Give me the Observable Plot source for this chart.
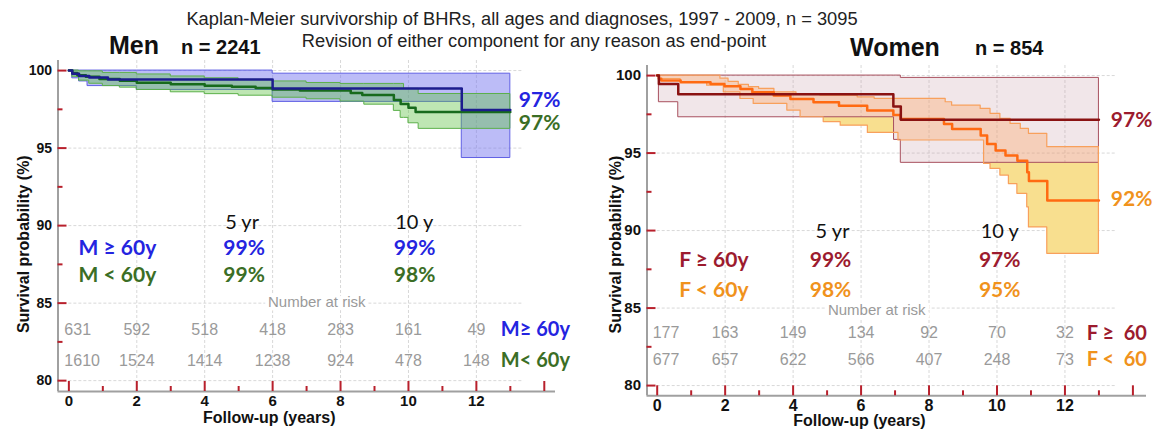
<!DOCTYPE html>
<html><head><meta charset="utf-8">
<script src="https://cdn.jsdelivr.net/npm/d3@7"></script>
<script src="https://cdn.jsdelivr.net/npm/@observablehq/plot@0.6"></script>
<style>
body{margin:0;background:#fff;}
#wrap{position:relative;width:1153px;height:440px;overflow:hidden;font-family:"Liberation Sans",Arial,sans-serif;}
#left,#right{position:absolute;top:0;}
#left{left:0}#right{left:578px}
#titles{position:absolute;left:0;top:0;pointer-events:none;font-family:"Liberation Sans",Arial,sans-serif;}
</style></head><body>
<div id="wrap">
<div id="left"></div><div id="right"></div>
<svg id="titles" width="1153" height="440">
 <text x="522" y="25" text-anchor="middle" font-size="18.3" fill="#222">Kaplan-Meier survivorship of BHRs, all ages and diagnoses, 1997 - 2009, n = 3095</text>
 <text x="534" y="47" text-anchor="middle" font-size="18.3" fill="#222">Revision of either component for any reason as end-point</text>
 <text x="109" y="54" font-size="25" font-weight="bold" fill="#111">Men</text>
 <text x="181" y="54" font-size="20" font-weight="bold" fill="#111">n = 2241</text>
 <text x="850" y="56" font-size="25" font-weight="bold" fill="#111">Women</text>
 <text x="975" y="55" font-size="20" font-weight="bold" fill="#111">n = 854</text>
</svg>
</div>
<script>
// ---------- data ----------
const xLabels = [0, 2, 4, 6, 8, 10, 12];
const xMajor = [0, 2, 4, 6, 8, 10, 12, 14];
const xMinor = [1, 3, 5, 7, 9, 11, 13];
const xGrid = [2, 4, 6, 8, 10, 12];
const yMajor = [80, 85, 90, 95, 100];
const yMinor = [82.5, 87.5, 92.5, 97.5];

const riskYears = [0, 2, 4, 6, 8, 10, 12];
const riskMenOld = [631, 592, 518, 418, 283, 161, 49];
const riskMenYoung = [1610, 1524, 1414, 1238, 924, 478, 148];
const riskWomenOld = [177, 163, 149, 134, 92, 70, 32];
const riskWomenYoung = [677, 657, 622, 566, 407, 248, 73];

const milestoneLabels = ["5 yr", "10 y"];
const menOldPct = ["99%", "99%"];
const menYoungPct = ["99%", "98%"];
const womenOldPct = ["99%", "97%"];
const womenYoungPct = ["98%", "95%"];
const menEndPct = ["97%", "97%"];      // M>=60, M<60
const womenEndPct = ["97%", "92%"];    // F>=60, F<60

// Kaplan-Meier step curves [years, survival %]
const menOld = [[0,100],[0.1,99.8],[0.3,99.65],[0.6,99.55],[1.15,99.42],[6.0,98.84],[11.57,97.45],[13,97.45]];
const menOldLo = [[0,100],[0.1,99.5],[0.3,99.3],[0.55,99.0],[2.0,98.75],[6.0,97.98],[11.57,94.36],[13,94.36]];
const menOldHi = [[0,100],[6.0,99.8],[13,99.8]];

const menYoung = [[0,100],[0.1,99.85],[0.25,99.7],[0.5,99.6],[0.9,99.45],[1.5,99.35],[2.0,99.22],[3.0,99.12],[4.0,99.02],[4.8,98.95],[5.5,98.88],[6.0,98.78],[6.8,98.71],[8.3,98.56],[8.64,98.43],[9.57,98.1],[9.77,97.85],[10.0,97.6],[10.21,97.33],[13,97.33]];
const menYoungHi = [[0,100],[0.3,99.95],[1.0,99.85],[2.0,99.75],[3.0,99.62],[4.0,99.5],[5.0,99.4],[6.0,99.3],[7.0,99.2],[8.0,99.14],[9.87,98.82],[10.3,98.49],[13,98.49]];
const menYoungLo = [[0,100],[0.1,99.6],[0.3,99.35],[0.6,99.15],[1.0,99.0],[1.5,98.9],[2.0,98.75],[3.0,98.6],[4.0,98.48],[5.0,98.38],[6.0,98.25],[7.0,98.15],[8.0,98.0],[8.7,97.8],[9.57,97.4],[9.77,96.95],[10.0,96.6],[10.3,96.24],[13,96.24]];

const womenOld = [[0,100],[0.05,99.45],[0.62,98.8],[6.95,98.0],[7.17,97.15],[13,97.15]];
const womenOldLo = [[0,100],[0.05,98.28],[0.62,97.31],[6.97,95.85],[7.17,94.37],[13,94.37]];
const womenOldHi = [[0,100],[7.17,99.85],[13,99.85]];

const womenYoung = [[0,100],[0.05,99.8],[0.12,99.68],[0.69,99.57],[1.57,99.46],[1.98,99.31],[2.45,99.14],[2.8,98.92],[3.43,98.71],[3.92,98.49],[4.6,98.28],[5.35,98.06],[6.18,97.74],[6.95,97.45],[7.16,97.2],[8.44,96.88],[8.68,96.56],[9.52,96.13],[9.71,95.59],[9.96,95.16],[10.25,94.84],[10.6,94.5],[10.89,93.76],[10.94,93.2],[11.48,91.94],[13,91.94]];
const womenYoungHi = [[0,100],[1.86,99.8],[2.1,99.6],[2.4,99.4],[2.7,99.25],[3.0,99.14],[3.45,98.92],[4.1,98.8],[4.8,98.71],[5.9,98.6],[6.4,98.5],[8.49,98.28],[8.68,98.06],[9.52,97.85],[9.81,97.53],[10.1,97.2],[10.4,96.88],[10.7,96.56],[10.94,96.24],[11.48,95.38],[13,95.38]];
const womenYoungLo = [[0,100],[0.05,99.78],[0.69,99.57],[1.47,99.35],[1.96,98.92],[2.45,98.49],[2.84,98.17],[3.83,97.74],[4.22,97.31],[4.9,97.0],[5.4,96.77],[6.2,96.3],[7.1,95.81],[9.62,94.3],[9.81,93.98],[10.1,93.55],[10.35,93.0],[10.6,92.37],[10.89,91.5],[10.94,90.2],[11.48,88.5],[13,88.5]];

// ---------- helpers ----------
function stepAt(pairs, t) { let v = pairs[0][1]; for (const p of pairs) { if (p[0] <= t + 1e-9) v = p[1]; else break; } return v; }
function times(...curves) { return [...new Set(curves.flat().map(p => p[0]))].sort((a, b) => a - b); }
function bandRows(lo, hi) { return times(lo, hi).map(t => ({t, lo: stepAt(lo, t), hi: stepAt(hi, t)})); }
function outsideRows(lo, hi, otherLo) {
  return times(lo, hi, otherLo).map(t => {
    const a = stepAt(lo, t), b = Math.min(stepAt(hi, t), stepAt(otherLo, t));
    return {t, lo: a, hi: Math.max(a, b)};
  });
}
const riskRows = (counts) => riskYears.map((t, i) => ({t, n: counts[i]}));

const RED = "#b8202c", AXIS = "#a0a0a0", GRID = "#d8d8d8", GRAY = "#9a9a9a";
const SANS = "Liberation Sans, Arial, sans-serif";
const CAL = "Lato, 'Open Sans', sans-serif";

function gridMarks(c) {
  return [
    Plot.ruleX(xGrid, {x: d => d, stroke: GRID, strokeDasharray: "3,2"}),
    Plot.ruleY(yMajor, {y: d => d, x1: 0, x2: c.gridEnd, stroke: GRID, strokeDasharray: "3,2"}),
  ];
}
function frameMarks(c) {
  const fw = c.width - c.marginLeft - c.marginRight;
  const fh = c.height - c.marginTop - c.marginBottom;
  return [
    Plot.ruleX([c.xDomain[0]], {stroke: AXIS, strokeWidth: 2}),
    Plot.ruleY([c.yDomain[0]], {stroke: AXIS, strokeWidth: 2}),
    Plot.tickX(xMajor, {x: d => d, stroke: RED, strokeWidth: 2, insetTop: fh - 10}),
    Plot.tickX(xMinor, {x: d => d, stroke: RED, strokeWidth: 2, insetTop: fh - 5}),
    Plot.tickY(yMajor, {y: d => d, stroke: RED, strokeWidth: 2, insetRight: fw - 9}),
    Plot.tickY(yMinor, {y: d => d, stroke: RED, strokeWidth: 2, insetRight: fw - 5}),
    Plot.text(xLabels, {x: d => d, text: d => String(d), frameAnchor: "bottom", dy: c.xLabelDy, fontWeight: "bold", fontSize: c.xFont, fill: "#111", fontFamily: SANS}),
    Plot.text(yMajor, {y: d => d, text: d => String(d), frameAnchor: "left", textAnchor: "end", dx: -6, fontWeight: "bold", fontSize: c.yFont, fill: "#111", fontFamily: SANS}),
    Plot.text(["Follow-up (years)"], {x: c.xTitleX, frameAnchor: "bottom", dy: c.xTitleDy, fontWeight: "bold", fontSize: 16, fill: "#111", fontFamily: SANS}),
    Plot.text(["Survival probability (%)"], {y: c.yTitleY, frameAnchor: "left", textAnchor: "middle", dx: c.yTitleDx, rotate: -90, fontWeight: "bold", fontSize: 16, fill: "#111", fontFamily: SANS}),
  ];
}
function annotationMarks(c) {
  return [
    Plot.text(milestoneLabels, {x: (d, i) => c.headX[i], y: c.headY, text: d => d, fontSize: 20, fill: "#111", fontFamily: CAL}),
    Plot.text(c.groupLabels, {x: c.groupX, y: (d, i) => c.rowY[i], text: d => d, fill: (d, i) => c.colors[i], fontSize: 21, fontWeight: "bold", fontFamily: CAL}),
    Plot.text(c.pctA, {x: (d, i) => c.pctX[i], y: c.rowY[0], text: d => d, fill: c.colors[0], fontSize: 21, fontWeight: "bold", fontFamily: CAL}),
    Plot.text(c.pctB, {x: (d, i) => c.pctX[i], y: c.rowY[1], text: d => d, fill: c.colors[1], fontSize: 21, fontWeight: "bold", fontFamily: CAL}),
    Plot.text(["Number at risk"], {x: c.narX, y: c.narY, text: d => d, fill: GRAY, fontSize: 15, fontFamily: SANS, stroke: "white", strokeWidth: 8, paintOrder: "stroke"}),
    Plot.text(riskRows(c.riskA).slice(0, 1), {x: "t", y: c.riskY[0], text: d => String(d.n), textAnchor: "start", dx: -4.5, fill: GRAY, fontSize: 16, fontFamily: SANS}),
    Plot.text(riskRows(c.riskA).slice(1), {x: "t", y: c.riskY[0], text: d => String(d.n), fill: GRAY, fontSize: 16, fontFamily: SANS}),
    Plot.text(riskRows(c.riskB).slice(0, 1), {x: "t", y: c.riskY[1], text: d => String(d.n), textAnchor: "start", dx: -4.5, fill: GRAY, fontSize: 16, fontFamily: SANS}),
    Plot.text(riskRows(c.riskB).slice(1), {x: "t", y: c.riskY[1], text: d => String(d.n), fill: GRAY, fontSize: 16, fontFamily: SANS}),
    Plot.text(c.rowLabels, {x: c.rowLabelX, y: (d, i) => c.riskY[i], text: d => d, textAnchor: "start", fill: (d, i) => c.colors[i], fontSize: 20, fontWeight: "bold", fontFamily: CAL}),
    Plot.text(c.endPct, {x: c.endX, y: (d, i) => c.endY[i], text: d => d, textAnchor: "start", fill: (d, i) => c.colors[i], fontSize: 21, fontWeight: "bold", fontFamily: CAL}),
  ];
}
function makePlot(c, curveMarks) {
  return Plot.plot({
    width: c.width, height: c.height,
    marginLeft: c.marginLeft, marginRight: c.marginRight, marginTop: c.marginTop, marginBottom: c.marginBottom,
    x: {domain: c.xDomain, axis: null},
    y: {domain: c.yDomain, axis: null},
    style: {background: "transparent", fontFamily: SANS, overflow: "visible"},
    marks: [...gridMarks(c), ...curveMarks, ...frameMarks(c), ...annotationMarks(c)]
  });
}

// ---------- Men ----------
const BLUE_T = "#2424e0", GREEN_T = "#3b6e25";
const menCfg = {
  width: 578, height: 440, marginLeft: 57.5, marginRight: 23, marginTop: 60, marginBottom: 49,
  xDomain: [-0.32, 14.33], yDomain: [79.3, 100.65], gridEnd: 13.4,
  xLabelDy: 14, xFont: 15, yFont: 14, xTitleX: 5.9, xTitleDy: 31, yTitleY: 88.8, yTitleDx: -34.5,
  headX: [5.1, 10.17], headY: 90.2, groupLabels: ["M ≥ 60y", "M < 60y"], groupX: 1.43,
  rowY: [88.56, 86.77], pctA: menOldPct, pctB: menYoungPct, pctX: [5.16, 10.18],
  colors: [BLUE_T, GREEN_T], narX: 7.3, narY: 85.05, riskA: riskMenOld, riskB: riskMenYoung,
  riskY: [83.27, 81.29], rowLabels: ["M≥ 60y", "M< 60y"], rowLabelX: 12.72,
  endPct: menEndPct, endX: 13.25, endY: [98.06, 96.6]
};
const menCurves = [
  Plot.areaY(bandRows(menOldLo, menOldHi), {x: "t", y1: "lo", y2: "hi", curve: "step-after", fill: "#7474ee", fillOpacity: 0.48, stroke: "#6060e4", strokeWidth: 1}),
  Plot.areaY(bandRows(menYoungLo, menYoungHi), {x: "t", y1: "lo", y2: "hi", curve: "step-after", fill: "#5cc040", fillOpacity: 0.4, stroke: "#5cb04a", strokeWidth: 1}),
  Plot.line(menYoung, {x: d => d[0], y: d => d[1], curve: "step-after", stroke: "#176a1c", strokeWidth: 2.5}),
  Plot.line(menOld, {x: d => d[0], y: d => d[1], curve: "step-after", stroke: "#1c1c8e", strokeWidth: 2.5}),
];
document.getElementById("left").appendChild(makePlot(menCfg, menCurves));

// ---------- Women ----------
const DRED_T = "#9c1b2e", ORANGE_T = "#f0921c";
const womenCfg = {
  width: 575, height: 440, marginLeft: 68.5, marginRight: 7, marginTop: 65, marginBottom: 44.7,
  xDomain: [-0.3, 14.4], yDomain: [79.34, 100.65], gridEnd: 13.5,
  xLabelDy: 15, xFont: 16, yFont: 15, xTitleX: 5.95, xTitleDy: 30, yTitleY: 89.1, yTitleDx: -31.5,
  headX: [5.16, 10.08], headY: 89.95, groupLabels: ["F ≥ 60y", "F < 60y"], groupX: 1.67,
  rowY: [88.06, 86.13], pctA: womenOldPct, pctB: womenYoungPct, pctX: [5.1, 10.08],
  colors: [DRED_T, ORANGE_T], narX: 6.46, narY: 84.84, riskA: riskWomenOld, riskB: riskWomenYoung,
  riskY: [83.37, 81.65], rowLabels: ["F ≥\u00a0\u00a060", "F <\u00a0\u00a060"], rowLabelX: 12.64,
  endPct: womenEndPct, endX: 13.35, endY: [97.1, 92.04]
};
const womenCurves = [
  Plot.areaY(bandRows(womenOldLo, womenOldHi), {x: "t", y1: "lo", y2: "hi", curve: "step-after", fill: "#c79aa8", fillOpacity: 0.25}),
  Plot.areaY(bandRows(womenYoungLo, womenYoungHi), {x: "t", y1: "lo", y2: "hi", curve: "step-after", fill: "#ff9a50", fillOpacity: 0.3}),
  Plot.areaY(outsideRows(womenYoungLo, womenYoungHi, womenOldLo), {x: "t", y1: "lo", y2: "hi", curve: "step-after", fill: "#f8df8f"}),
  Plot.areaY(bandRows(womenOldLo, womenOldHi), {x: "t", y1: "lo", y2: "hi", curve: "step-after", fill: "none", stroke: "#a8505e", strokeWidth: 1}),
  Plot.areaY(bandRows(womenYoungLo, womenYoungHi), {x: "t", y1: "lo", y2: "hi", curve: "step-after", fill: "none", stroke: "#f8a05c", strokeWidth: 1.2}),
  Plot.line(womenYoung, {x: d => d[0], y: d => d[1], curve: "step-after", stroke: "#ff6a12", strokeWidth: 2.5}),
  Plot.line(womenOld, {x: d => d[0], y: d => d[1], curve: "step-after", stroke: "#8a1212", strokeWidth: 2.5}),
];
document.getElementById("right").appendChild(makePlot(womenCfg, womenCurves));
</script>
</body></html>
